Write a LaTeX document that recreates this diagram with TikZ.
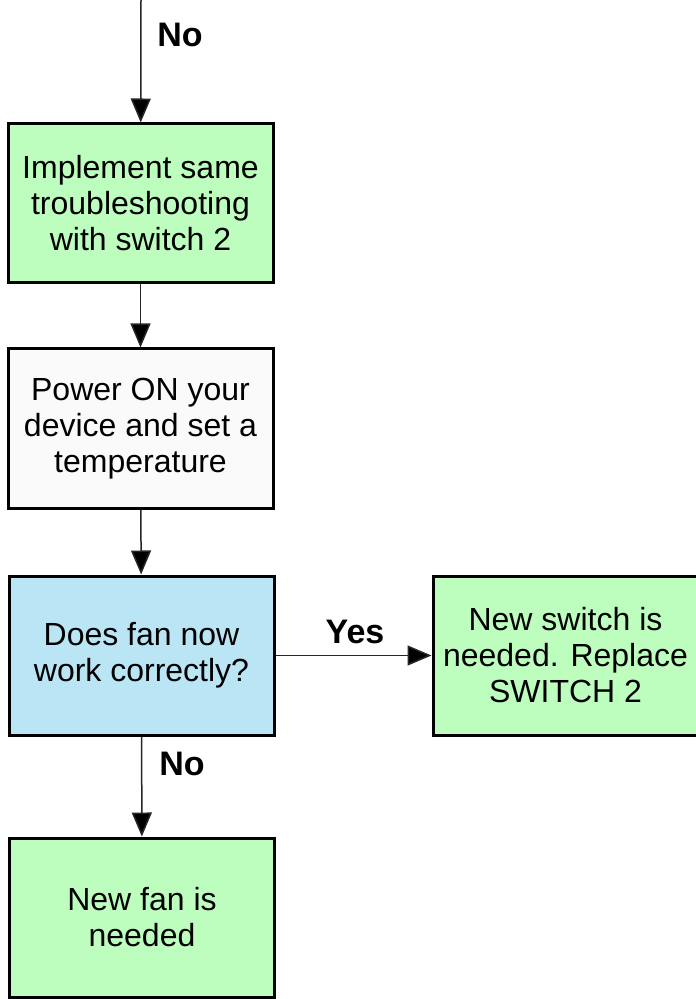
\documentclass[tikz,border=0pt]{standalone}
\usepackage{fontspec}
\setmainfont{Liberation Sans}
\usepackage{tikz}
\usetikzlibrary{arrows.meta}
\definecolor{actgreen}{HTML}{BDFDBD}
\definecolor{askblue}{HTML}{B9E5F5}
\definecolor{stepgray}{HTML}{FAFAFA}
\tikzset{
  box/.style={rectangle, draw=black, line width=1.5pt, minimum width=132.5pt,
    minimum height=79.5pt, inner sep=1pt, align=center,
    font=\fontsize{16}{18}\selectfont},
  action/.style={box, fill=actgreen},
  check/.style={box, fill=askblue},
  plain/.style={box, fill=stepgray},
  flow/.style={line width=0.75pt, draw=black!85, -{Triangle[length=12pt, width=10pt, fill=black]}},
  answer/.style={font=\fontsize{17}{20}\selectfont\bfseries}
}

\begin{document}
\begin{tikzpicture}[x=0.5pt, y=-0.5pt]
		\useasboundingbox (0,0) rectangle (695,999);
		% boxes of the flow
		\coordinate (top) at (141,0);
		\node[action] (same) at (140.5,203.5) {Implement same\\troubleshooting\\ with switch 2};
		\node[plain] (power) at (140.5,428.5) {Power ON your\\device and set a\\temperature};
		\node[check] (fan) at (141.5,655.5) {Does fan now\\work correctly?};
		\node[action] (switch) at (565.5,655.5) {New switch is\\needed. Replace\\SWITCH 2};
		\node[action] (newfan) at (142,917.5) {New fan is\\needed};
		% connectors
		\draw[flow] (top) -- (same);
		\draw[flow] (same) -- (power);
		\draw[flow] (power) -- (fan);
		\draw[flow] (fan) -- (switch);
		\draw[flow] (fan) -- (newfan);
		% answers
		\node[answer] (no1) at (180,35) {No};
		\node[answer] (yes) at (355,632) {Yes};
		\node[answer] (no2) at (182,764) {No};
	\end{tikzpicture}
\end{document}
